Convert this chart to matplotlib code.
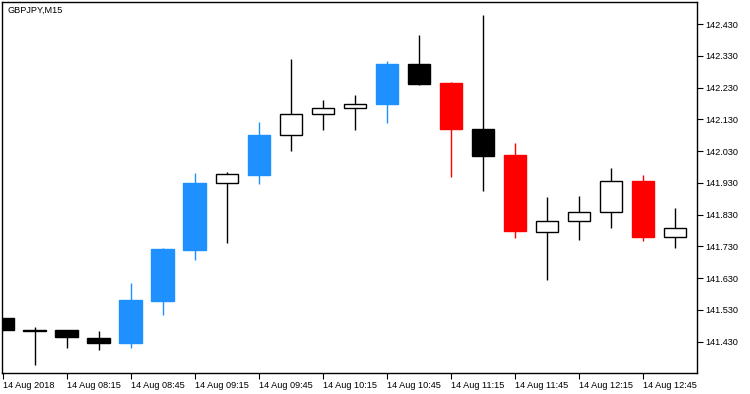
import matplotlib
matplotlib.use("Agg")
import matplotlib.pyplot as plt

title = "GBPJPY,M15"
opens  = [141.504, 141.466, 141.467, 141.442, 141.427, 141.559, 141.720, 141.929, 141.956, 142.080, 142.146,
          142.165, 142.177, 142.305, 142.245, 142.100, 142.018, 141.775, 141.809, 141.838, 141.936, 141.759]
highs  = [141.504, 141.476, 141.467, 141.464, 141.615, 141.725, 141.962, 141.964, 142.122, 142.321, 142.192,
          142.206, 142.313, 142.396, 142.248, 142.459, 142.056, 141.886, 141.889, 141.977, 141.955, 141.851]
lows   = [141.465, 141.357, 141.411, 141.402, 141.411, 141.515, 141.688, 141.741, 141.925, 142.032, 142.098,
          142.098, 142.120, 142.237, 141.950, 141.906, 141.755, 141.625, 141.751, 141.789, 141.748, 141.726]
closes = [141.465, 141.463, 141.443, 141.427, 141.561, 141.722, 141.930, 141.957, 142.081, 142.146, 142.165,
          142.178, 142.305, 142.243, 142.101, 142.016, 141.777, 141.809, 141.838, 141.935, 141.758, 141.787]
kinds  = ["down", "down", "down", "down", "blue", "blue", "blue", "up", "blue", "up", "up",
          "up", "blue", "down", "red", "down", "red", "up", "up", "up", "red", "up"]
xtick_idx = [0, 2, 4, 6, 8, 10, 12, 14, 16, 18, 20]
xtick_labels = ["14 Aug 2018", "14 Aug 08:15", "14 Aug 08:45", "14 Aug 09:15", "14 Aug 09:45",
                "14 Aug 10:15", "14 Aug 10:45", "14 Aug 11:15", "14 Aug 11:45", "14 Aug 12:15",
                "14 Aug 12:45"]
ytick_vals = [141.43, 141.53, 141.63, 141.73, 141.83, 141.93, 142.03, 142.13, 142.23, 142.33, 142.43]

plt.rcParams['font.family'] = ['Liberation Sans', 'DejaVu Sans']

W, H = 750, 394
fig = plt.figure(figsize=(W / 100, H / 100), dpi=100)
l, r, t, b = 2.3, 697.3, 2.3, 373.0
ax = fig.add_axes([l / W, 1 - b / H, (r - l) / W, (b - t) / H])

fill_map = {"up": "white", "down": "black", "blue": "#1E90FF", "red": "#FF0000"}
edge_map = {"up": "black", "down": "black", "blue": "#1E90FF", "red": "#FF0000"}

for i, (o, h, lo, c, k) in enumerate(zip(opens, highs, lows, closes, kinds)):
    ec = edge_map[k]
    ax.vlines(i, lo, h, color=ec, linewidth=1.0, zorder=1)
    ax.bar(i, abs(c - o), bottom=min(o, c), width=0.7, color=fill_map[k],
           edgecolor=ec, linewidth=1.0, zorder=2)

ax.set_xlim(-0.01, 21.70)
ax.set_ylim(141.331, 142.499)

ax.set_xticks(xtick_idx)
ax.set_xticklabels(xtick_labels, ha='left', fontsize=6.6)
ax.tick_params(axis='x', direction='out', length=4.5, width=0.8, pad=1.5)

ax.yaxis.tick_right()
ax.set_yticks(ytick_vals)
ax.set_yticklabels([f"{v:.3f}" for v in ytick_vals], fontsize=6.6)
ax.tick_params(axis='y', direction='out', length=4, width=0.8, pad=1.5)

for s in ax.spines.values():
    s.set_linewidth(1.0)
    s.set_color('black')

fig.text(7 / W, 1 - 5.5 / H, title, fontsize=6.6, ha='left', va='top')

fig.savefig("out.png", dpi=100)
